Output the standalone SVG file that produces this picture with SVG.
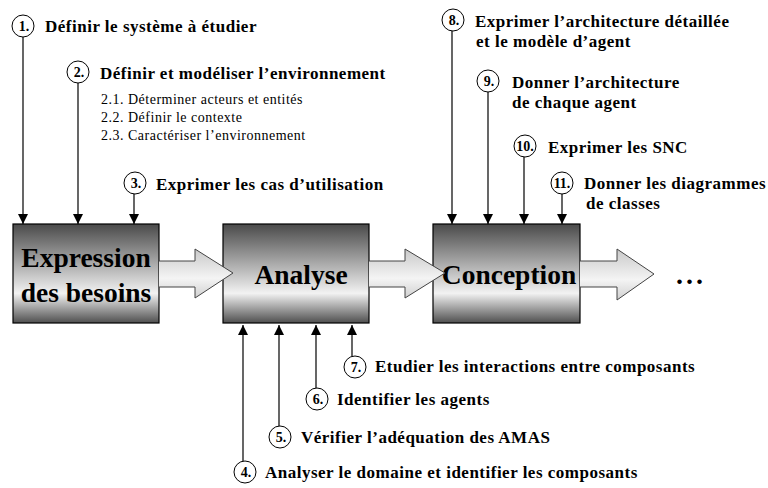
<svg xmlns="http://www.w3.org/2000/svg" width="768" height="488" viewBox="0 0 768 488" font-family="'Liberation Serif', 'DejaVu Serif', serif">
  <defs>
    <linearGradient id="boxFill" x1="0" y1="0" x2="0" y2="1">
      <stop offset="0" stop-color="#4a4a4a"/>
      <stop offset="0.7" stop-color="#f2f2f2"/>
      <stop offset="1" stop-color="#4f4f4f"/>
    </linearGradient>
    <linearGradient id="flowFill" x1="0" y1="0" x2="0" y2="1">
      <stop offset="0" stop-color="#c9c9c9"/>
      <stop offset="0.6" stop-color="#f4f4f4"/>
      <stop offset="1" stop-color="#d0d0d0"/>
    </linearGradient>
    <marker id="tip" viewBox="0 0 10 10" refX="10" refY="5" markerWidth="10" markerHeight="10" markerUnits="userSpaceOnUse" orient="auto">
      <path d="M0,0 L10,5 L0,10 Z" fill="#000"/>
    </marker>
  </defs>
  <style>
    text { font-family: 'Liberation Serif', 'DejaVu Serif', serif; }
    .box { fill: url(#boxFill); stroke: #000; stroke-width: 1.2; }
    .boxText { font-weight: bold; font-size: 27.5px; fill: #000; text-anchor: middle; }
    .flow { fill: url(#flowFill); stroke: none; }
    .flowEdge { fill: none; stroke: #444; stroke-width: 1; }
    .link { fill: none; stroke: #000; stroke-width: 1.2; marker-end: url(#tip); }
    .num { fill: #fff; stroke: #000; stroke-width: 1; }
    .numText { font-weight: bold; font-size: 14px; text-anchor: middle; fill: #000; }
    .label { font-weight: bold; font-size: 17px; letter-spacing: 0.5px; fill: #000; }
    .sub { font-size: 14px; letter-spacing: 0.5px; fill: #000; }
    .dots { font-weight: bold; font-size: 28px; letter-spacing: 3px; fill: #000; }
  </style>

  <rect width="768" height="488" fill="#fff"/>

  <!-- phase boxes -->
  <g id="expression">
    <rect class="box" x="13" y="224" width="146" height="99"/>
    <text class="boxText" x="86" y="267">Expression</text>
    <text class="boxText" x="86" y="302">des besoins</text>
  </g>
  <g id="analyse">
    <rect class="box" x="223" y="224" width="146" height="99"/>
    <text class="boxText" x="301" y="284">Analyse</text>
  </g>
  <g id="conception">
    <rect class="box" x="433" y="224" width="147" height="99"/>
    <text class="boxText" x="509" y="284">Conception</text>
  </g>
  <g id="suite">
    <text class="dots" x="676" y="284">...</text>
  </g>

  <!-- connectors -->
  <g id="connectors">
    <!-- flow arrows between phases -->
    <polygon class="flow" points="159,261 195,261 195,249 233,273 195,298 195,287 159,287"/>
    <path class="flowEdge" d="M159,261 H195 V249 L233,273 L195,298 V287 H159"/>
    <polygon class="flow" points="369,261 405,261 405,249 445,273 405,298 405,287 369,287"/>
    <path class="flowEdge" d="M369,261 H405 V249 L445,273 L405,298 V287 H369"/>
    <polygon class="flow" points="580,261 617,261 617,249 654,274 617,300 617,287 580,287"/>
    <path class="flowEdge" d="M580,261 H617 V249 L654,274 L617,300 V287 H580"/>

    <!-- steps into Expression des besoins -->
    <line class="link" x1="23" y1="37" x2="23" y2="224"/>
    <line class="link" x1="78" y1="83" x2="78" y2="224"/>
    <line class="link" x1="134" y1="194" x2="134" y2="224"/>

    <!-- steps into Conception -->
    <line class="link" x1="452" y1="31" x2="452" y2="224"/>
    <line class="link" x1="488" y1="92" x2="488" y2="224"/>
    <line class="link" x1="524" y1="157" x2="524" y2="224"/>
    <line class="link" x1="562" y1="194" x2="562" y2="224"/>

    <!-- steps into Analyse (from below) -->
    <line class="link" x1="243" y1="461" x2="243" y2="325"/>
    <line class="link" x1="279" y1="426" x2="279" y2="325"/>
    <line class="link" x1="316" y1="388" x2="316" y2="325"/>
    <line class="link" x1="352" y1="356" x2="352" y2="325"/>
  </g>

  <!-- numbered steps -->
  <g id="step1">
    <circle class="num" cx="23" cy="26" r="11"/>
    <text class="numText" x="24" y="31">1.</text>
    <text class="label" x="45" y="32">Définir le système à étudier</text>
  </g>
  <g id="step2">
    <circle class="num" cx="78" cy="72" r="11"/>
    <text class="numText" x="79" y="77">2.</text>
    <text class="label" x="100" y="79">Définir et modéliser l’environnement</text>
    <text class="sub" x="101" y="104">2.1. Déterminer acteurs et entités</text>
    <text class="sub" x="101" y="122">2.2. Définir le contexte</text>
    <text class="sub" x="101" y="140">2.3. Caractériser l’environnement</text>
  </g>
  <g id="step3">
    <circle class="num" cx="135" cy="183" r="11"/>
    <text class="numText" x="136" y="188">3.</text>
    <text class="label" x="156" y="190">Exprimer les cas d’utilisation</text>
  </g>
  <g id="step4">
    <circle class="num" cx="245" cy="472" r="11"/>
    <text class="numText" x="246" y="477">4.</text>
    <text class="label" x="265" y="478">Analyser le domaine et identifier les composants</text>
  </g>
  <g id="step5">
    <circle class="num" cx="280" cy="437" r="11"/>
    <text class="numText" x="281" y="442">5.</text>
    <text class="label" x="301" y="443">Vérifier l’adéquation des AMAS</text>
  </g>
  <g id="step6">
    <circle class="num" cx="317" cy="399" r="11"/>
    <text class="numText" x="318" y="404">6.</text>
    <text class="label" x="337" y="405">Identifier les agents</text>
  </g>
  <g id="step7">
    <circle class="num" cx="355" cy="367" r="11"/>
    <text class="numText" x="356" y="372">7.</text>
    <text class="label" x="375" y="372">Etudier les interactions entre composants</text>
  </g>
  <g id="step8">
    <circle class="num" cx="453" cy="20" r="11"/>
    <text class="numText" x="454" y="25">8.</text>
    <text class="label" x="475" y="27">Exprimer l’architecture détaillée</text>
    <text class="label" x="476" y="47">et le modèle d’agent</text>
  </g>
  <g id="step9">
    <circle class="num" cx="488" cy="81" r="11"/>
    <text class="numText" x="489" y="86">9.</text>
    <text class="label" x="512" y="88">Donner l’architecture</text>
    <text class="label" x="512" y="108">de chaque agent</text>
  </g>
  <g id="step10">
    <circle class="num" cx="525" cy="146" r="11"/>
    <text class="numText" x="525" y="151">10.</text>
    <text class="label" x="548" y="153">Exprimer les SNC</text>
  </g>
  <g id="step11">
    <circle class="num" cx="562" cy="183" r="11"/>
    <text class="numText" x="562" y="188">11.</text>
    <text class="label" x="584" y="189">Donner les diagrammes</text>
    <text class="label" x="586" y="209">de classes</text>
  </g>
</svg>
